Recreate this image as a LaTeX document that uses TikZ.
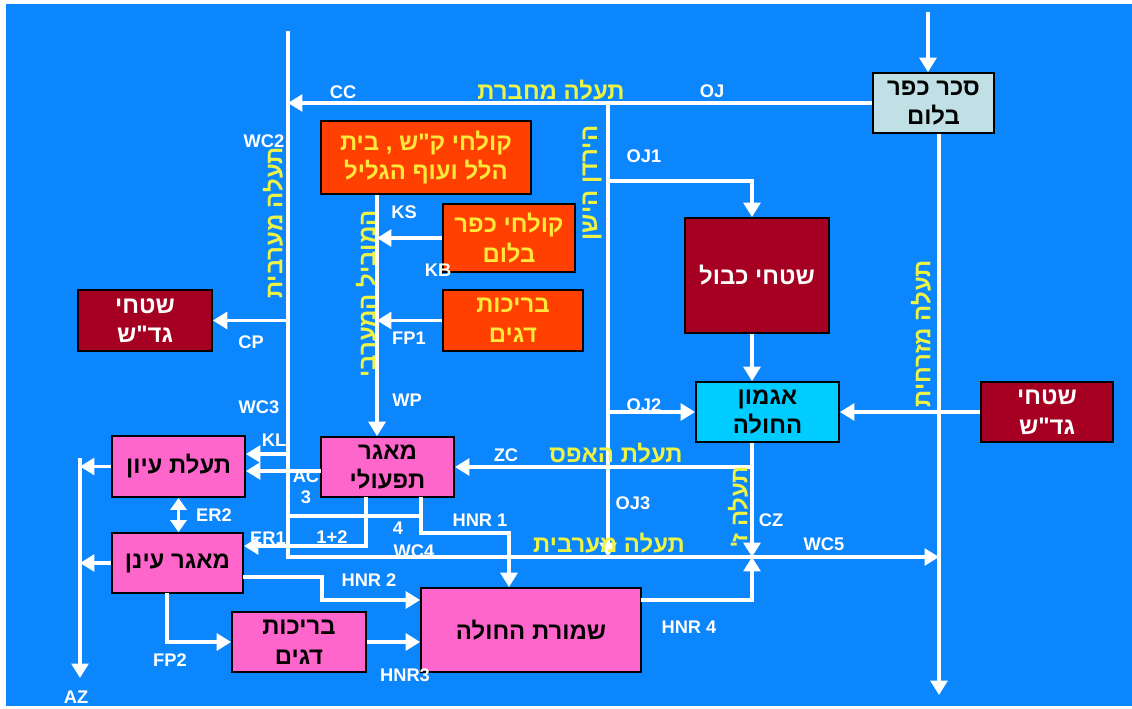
\documentclass[tikz,border=0pt]{standalone}
\usepackage{fontspec}
\setmainfont{Liberation Sans}
\newfontfamily\hebfont[Script=Hebrew]{Liberation Sans}
\TeXXeTstate=1
\usetikzlibrary{arrows.meta}

\definecolor{bgblue}{RGB}{12,134,252}
\definecolor{redorange}{RGB}{255,64,0}
\definecolor{darkred}{RGB}{165,0,33}
\definecolor{pinkbox}{RGB}{255,102,204}
\definecolor{cyanbox}{RGB}{0,204,255}
\definecolor{sakarbox}{RGB}{192,224,230}
\definecolor{txtyellow}{RGB}{255,232,60}
\definecolor{canalyellow}{RGB}{238,244,70}

\newcommand{\heb}[1]{\beginR #1\endR}

\tikzset{
  flow/.style={draw=white, line width=2.4pt, -{Triangle[length=0.36cm,width=0.42cm]}},
  twoway/.style={draw=white, line width=2.4pt, {Triangle[length=0.3cm,width=0.4cm]}-{Triangle[length=0.3cm,width=0.4cm]}},
  pipe/.style={draw=white, line width=2.4pt},
  box/.style={draw=black, line width=1.2pt, align=center, inner sep=1pt,
    font=\hebfont\bfseries\fontsize{17}{21}\selectfont},
  redbox/.style={box, fill=redorange, text=txtyellow},
  fieldbox/.style={box, fill=darkred, text=white},
  pinkb/.style={box, fill=pinkbox, text=black},
  lab/.style={text=white, inner sep=0pt, font=\bfseries\fontsize{13}{14}\selectfont},
  canal/.style={text=canalyellow, inner sep=0pt, font=\hebfont\bfseries\fontsize{17}{20}\selectfont},
}

\begin{document}
\begin{tikzpicture}[x=0.025cm, y=-0.025cm]
\fill[white] (0,0) rectangle (1132,709);
\fill[bgblue] (6,4) rectangle (1132,706);

% boxes
\node[box, fill=sakarbox, minimum width=3.03cm, minimum height=1.5cm] (sakar) at (933.5,103) {\heb{סכר כפר}\\\heb{בלום}};
\node[redbox, minimum width=5.25cm, minimum height=1.83cm] (ksbh) at (426,157.5) {\heb{קולחי ק"ש , בית}\\\heb{הלל ועוף הגליל}};
\node[redbox, minimum width=3.3cm, minimum height=1.7cm] (kbeff) at (509,238) {\heb{קולחי כפר}\\\heb{בלום}};
\node[redbox, minimum width=3.5cm, minimum height=1.53cm] (fish1) at (513,320.5) {\heb{בריכות}\\\heb{דגים}};
\node[fieldbox, minimum width=3.6cm, minimum height=2.88cm] (kavul) at (757,275.5) {\heb{שטחי כבול}};
\node[box, fill=cyanbox, minimum width=3.58cm, minimum height=1.5cm] (agmon) at (767.5,412) {\heb{אגמון}\\\heb{החולה}};
\node[fieldbox, minimum width=3.3cm, minimum height=1.5cm] (gadshE) at (1047,412) {\heb{שטחי}\\\heb{גד"ש}};
\node[fieldbox, minimum width=3.35cm, minimum height=1.53cm] (gadshW) at (145,320.5) {\heb{שטחי}\\\heb{גד"ש}};
\node[pinkb, minimum width=3.33cm, minimum height=1.5cm] (mtif) at (387.5,467) {\heb{מאגר}\\\heb{תפעולי}};
\node[pinkb, minimum width=5.5cm, minimum height=2.1cm] (shmura) at (531,630) {\heb{שמורת החולה}};
\node[pinkb, minimum width=3.33cm, minimum height=1.53cm] (eyon) at (178.5,466.5) {\heb{תעלת עיון}};
\node[pinkb, minimum width=3.28cm, minimum height=1.5cm] (einan) at (177.5,563) {\heb{מאגר עינן}};
\node[pinkb, minimum width=3.35cm, minimum height=1.5cm] (fish2) at (299,642) {\heb{בריכות}\\\heb{דגים}};

% points on the canals
\coordinate (sakIn) at (928,12);
\coordinate (wcT) at (288,31);
\coordinate (wcB) at (288,557);
\coordinate (eaB) at (939,695);
\coordinate (ojT) at (608,103);
\coordinate (oj1) at (608,181);
\coordinate (oj2) at (608,412);
\coordinate (cz) at (752,557);
\coordinate (wp) at (377,195);
\coordinate (kl) at (288,454);
\coordinate (ac) at (321,471);
\coordinate (l4a) at (288,516);
\coordinate (l4b) at (421,516);
\coordinate (er1) at (366,497);
\coordinate (er1b) at (366,546);
\coordinate (hn1) at (421,497);
\coordinate (hn1b) at (509,533);
\coordinate (hn2) at (243,577);
\coordinate (hn2b) at (322,600);
\coordinate (hn4) at (641,600);
\coordinate (fp2s) at (167,593);
\coordinate (az) at (80,458);
\coordinate (azB) at (80,678);

% connectors
\draw[flow] (sakIn) -- (sakIn |- sakar.north);
\draw[flow] (eaB |- sakar.south) -- (eaB);
\draw[flow] (sakar.west) -- (wcT |- sakar.west);
\draw[flow] (wcT) |- (eaB |- wcB);
\draw[flow] (ojT) -- (ojT |- wcB);
\draw[flow] (oj1) -| (cz |- kavul.north);
\draw[flow] (cz |- kavul.south) -- (cz |- agmon.north);
\draw[flow] (oj2) -- (agmon.west);
\draw[flow] (gadshE.west) -- (agmon.east);
\draw[flow] (cz |- agmon.south) -- (cz);
\draw[flow] (cz |- mtif.east) -- (mtif.east);
\draw[flow] (hn4) -| (cz);
\draw[flow] (wp) -- (wp |- mtif.north);
\draw[flow] (kbeff.west) -- (wp |- kbeff.west);
\draw[flow] (fish1.west) -- (wp |- fish1.west);
\draw[flow] (wcT |- gadshW.east) -- (gadshW.east);
\draw[flow] (kl) -- (kl -| eyon.east);
\draw[flow] (ac) -- (ac -| eyon.east);
\draw[pipe] (l4a) -- (l4b);
\draw[flow] (er1) -- (er1b) -- (er1b -| einan.east);
\draw[flow] (hn1) |- (hn1b) -- (hn1b |- shmura.north);
\draw[flow] (hn2) -| (hn2b) -- (hn2b -| shmura.west);
\draw[flow] (fish2.east) -- (shmura.west |- fish2.east);
\draw[flow] (fp2s) |- (fish2.west);
\draw[twoway] (eyon.south) -- (eyon.south |- einan.north);
\draw[flow] (az) -- (azB);
\draw[flow] (eyon.west) -- (az |- eyon.west);
\draw[flow] (einan.west) -- (az |- einan.west);

% canal names
\node[canal] (cnConn) at (551,90) {\heb{תעלה מחברת}};
\node[canal, rotate=90] (cnWest) at (273,223) {\heb{תעלה מערבית}};
\node[canal, rotate=90] (cnCarr) at (366,294) {\heb{המוביל המערבי}};
\node[canal, rotate=90] (cnOld) at (592,183) {\heb{הירדן הישן}};
\node[canal, rotate=90] (cnEast) at (921,334) {\heb{תעלה מזרחית}};
\node[canal] (cnZero) at (616,453) {\heb{תעלת האפס}};
\node[canal, rotate=90] (cnZ) at (738,507) {\heb{תעלה ז'}};
\node[canal] (cnWest2) at (609,543) {\heb{תעלה מערבית}};

% flow codes
\node[lab] (tCC) at (343,92) {CC};
\node[lab] (tOJ) at (712,91) {OJ};
\node[lab] (tWC2) at (264,141) {WC2};
\node[lab] (tKS) at (404,212) {KS};
\node[lab] (tKB) at (438,270) {KB};
\node[lab] (tFP1) at (409,338) {FP1};
\node[lab] (tWP) at (407,400) {WP};
\node[lab] (tOJ1) at (644,156) {OJ1};
\node[lab] (tCP) at (251,342) {CP};
\node[lab] (tWC3) at (259,407) {WC3};
\node[lab] (tKL) at (274,440) {KL};
\node[lab] (tOJ2) at (644,405) {OJ2};
\node[lab] (tZC) at (506,455) {ZC};
\node[lab, align=center, font=\bfseries\fontsize{13}{15}\selectfont] (tAC) at (306,487) {AC\\3};
\node[lab] (tER2) at (214,515) {ER2};
\node[lab] (tER1) at (268,538) {ER1};
\node[lab] (t12) at (332,537) {1+2};
\node[lab] (t4) at (398,528) {4};
\node[lab] (tWC4) at (414,551) {WC4};
\node[lab] (tHNR1) at (480,520) {HNR 1};
\node[lab] (tOJ3) at (633,503) {OJ3};
\node[lab] (tCZ) at (771,520) {CZ};
\node[lab] (tWC5) at (824,544) {WC5};
\node[lab] (tHNR2) at (369,580) {HNR 2};
\node[lab] (tHNR4) at (689,627) {HNR 4};
\node[lab] (tHNR3) at (405,675) {HNR3};
\node[lab] (tFP2) at (170,660) {FP2};
\node[lab] (tAZ) at (76,697) {AZ};
\end{tikzpicture}
\end{document}
